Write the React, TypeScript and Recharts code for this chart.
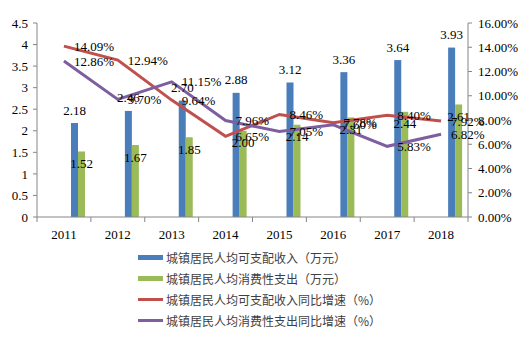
import React from 'react';
import {
  ComposedChart, Bar, Line, XAxis, YAxis, LabelList
} from 'recharts';

const years = ['2011', '2012', '2013', '2014', '2015', '2016', '2017', '2018'];
const income = [2.18, 2.46, 2.70, 2.88, 3.12, 3.36, 3.64, 3.93];
const consumption = [1.52, 1.67, 1.85, 2.00, 2.14, 2.31, 2.44, 2.61];
const incomeGrowth = [14.09, 12.94, 9.64, 6.65, 8.46, 7.78, 8.40, 7.92];
const consumptionGrowth = [12.86, 9.70, 11.15, 7.96, 7.05, 7.60, 5.83, 6.82];
const leftTicks = [0, 0.5, 1, 1.5, 2, 2.5, 3, 3.5, 4, 4.5];
const rightTicks = [0, 2, 4, 6, 8, 10, 12, 14, 16];

const names = [
  '城镇居民人均可支配收入（万元）',
  '城镇居民人均消费性支出（万元）',
  '城镇居民人均可支配收入同比增速（%）',
  '城镇居民人均消费性支出同比增速（%）',
];
const colors = ['#4a7ebb', '#9bbb59', '#c0504d', '#7d5fa0'];

const data = years.map((y, i) => ({
  year: y,
  income: income[i],
  consumption: consumption[i],
  incomeGrowth: incomeGrowth[i],
  consumptionGrowth: consumptionGrowth[i],
}));

const W = 527;
const H = 343;
const LEFT = 37;
const RIGHT = 468;
const TOP = 23;
const BOTTOM = 217;
const SHIFT = 14;
const BAND = (RIGHT - LEFT) / years.length;
const SERIF = '"Liberation Serif", "Times New Roman", serif';
const AXIS = '#868686';

const ShiftedBar = (props: any) => (
  <rect x={props.x + SHIFT} y={props.y} width={props.width} height={props.height} fill={props.fill} />
);

const barLabel = (where: 'top' | 'inside') => (props: any) => {
  const vb = props.viewBox || {};
  const x = props.x ?? vb.x;
  const y = props.y ?? vb.y;
  const w = props.width ?? vb.width;
  const cx = x + w / 2 + SHIFT;
  const ty = where === 'top' ? y - 13 : y + 12;
  return (
    <text x={cx} y={ty} textAnchor="middle" dominantBaseline="central"
      fontFamily={SERIF} fontSize={13} fill="#000">
      {Number(props.value).toFixed(2)}
    </text>
  );
};

const XTick = (props: any) => {
  const { x, y, payload, index } = props;
  return (
    <g>
      <line x1={x - BAND / 2} x2={x - BAND / 2} y1={BOTTOM} y2={BOTTOM + 5} stroke={AXIS} />
      {index === years.length - 1 && (
        <line x1={x + BAND / 2} x2={x + BAND / 2} y1={BOTTOM} y2={BOTTOM + 5} stroke={AXIS} />
      )}
      <text x={x} y={y + 9} textAnchor="middle" dominantBaseline="central"
        fontFamily={SERIF} fontSize={13} fill="#000">
        {payload.value}
      </text>
    </g>
  );
};

const LegendBox = () => (
  <div style={{
    position: 'absolute', top: 247, left: 138,
    fontFamily: '"Noto Sans CJK SC", sans-serif', fontSize: 12, color: '#404040',
  }}>
    {names.map((n, i) => (
      <div key={i} style={{ display: 'flex', alignItems: 'center', height: 21 }}>
        <div style={{ width: 25, height: i < 2 ? 5 : 2.5, background: colors[i], marginRight: 3 }} />
        <span>{n}</span>
      </div>
    ))}
  </div>
);

export default function App() {
  return (
    <div style={{ position: 'absolute', left: 0, top: 0, width: W, height: H, background: '#fff' }}>
      <ComposedChart
        width={W}
        height={H}
        data={data}
        margin={{ top: TOP, left: 0, right: 0, bottom: H - BOTTOM - 30 }}
        barSize={7}
        barGap={0}
      >
        <XAxis dataKey="year" height={30} axisLine={{ stroke: AXIS }} tickLine={false}
          tick={<XTick />} interval={0} />
        <YAxis yAxisId="left" width={LEFT} domain={[0, 4.5]} ticks={leftTicks} interval={0}
          tickFormatter={(v: number) => String(v)} axisLine={{ stroke: AXIS }}
          tickLine={{ stroke: AXIS }} tickSize={4} tickMargin={5}
          tick={{ fontFamily: SERIF, fontSize: 13, fill: '#000' }} />
        <YAxis yAxisId="right" orientation="right" width={W - RIGHT} domain={[0, 16]}
          ticks={rightTicks} interval={0} tickFormatter={(v: number) => v.toFixed(2) + '%'}
          axisLine={{ stroke: AXIS }} tickLine={{ stroke: AXIS }} tickSize={4} tickMargin={6}
          tick={{ fontFamily: SERIF, fontSize: 13, fill: '#000', textAnchor: 'start' }} />
        <Bar yAxisId="left" dataKey="income" name={names[0]} fill={colors[0]}
          shape={<ShiftedBar />} isAnimationActive={false}>
          <LabelList dataKey="income" content={barLabel('top')} />
        </Bar>
        <Bar yAxisId="left" dataKey="consumption" name={names[1]} fill={colors[1]}
          shape={<ShiftedBar />} isAnimationActive={false}>
          <LabelList dataKey="consumption" content={barLabel('inside')} />
        </Bar>
        <Line yAxisId="right" dataKey="incomeGrowth" name={names[2]} stroke={colors[2]}
          strokeWidth={3} dot={false} isAnimationActive={false}>
          <LabelList dataKey="incomeGrowth" position="right" offset={10}
            formatter={(v: any) => Number(v).toFixed(2) + '%'}
            style={{ fontFamily: SERIF, fontSize: 13, fill: '#000' }} />
        </Line>
        <Line yAxisId="right" dataKey="consumptionGrowth" name={names[3]} stroke={colors[3]}
          strokeWidth={3} dot={false} isAnimationActive={false}>
          <LabelList dataKey="consumptionGrowth" position="right" offset={10}
            formatter={(v: any) => Number(v).toFixed(2) + '%'}
            style={{ fontFamily: SERIF, fontSize: 13, fill: '#000' }} />
        </Line>
      </ComposedChart>
      <LegendBox />
    </div>
  );
}
